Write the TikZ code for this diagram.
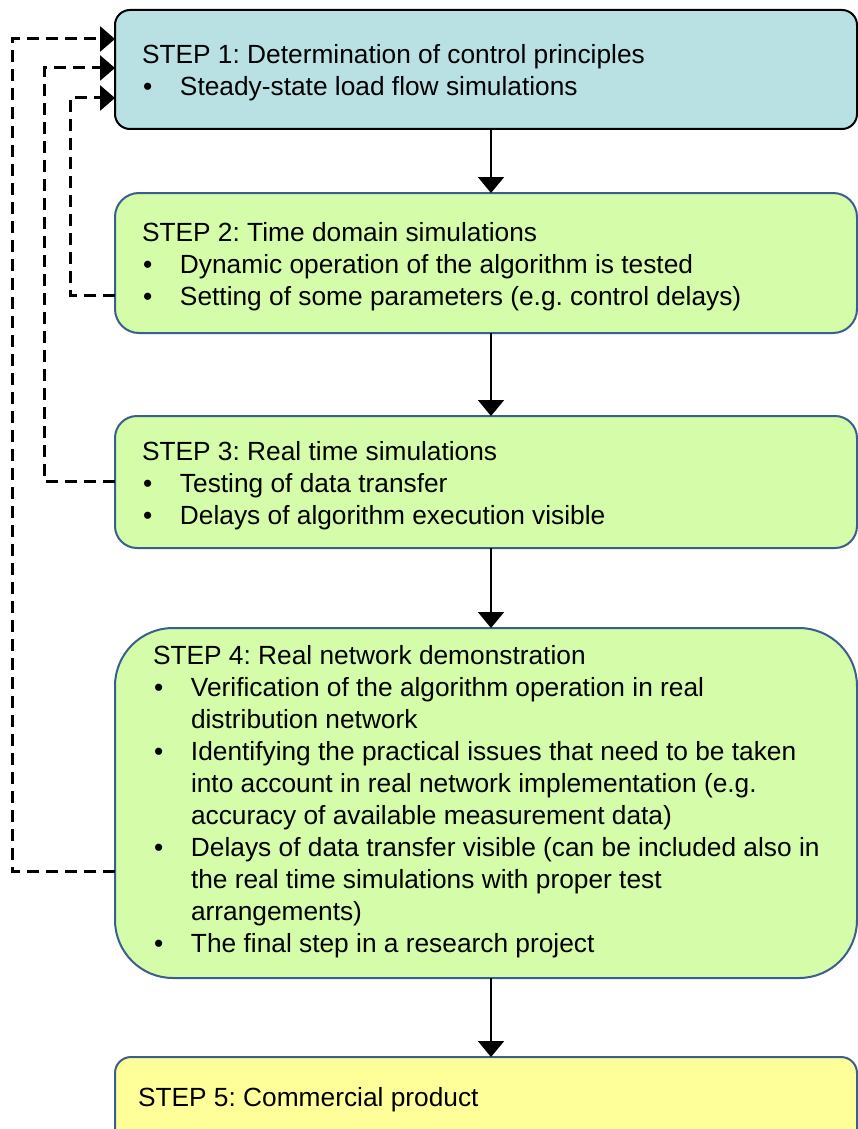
\documentclass[tikz,border=0pt]{standalone}
\usepackage{fontspec}
\setmainfont{Liberation Sans}
\usetikzlibrary{arrows.meta}
\frenchspacing

\definecolor{bluefill}{HTML}{B9E0E3}
\definecolor{greenfill}{HTML}{D4FCA9}
\definecolor{yellowfill}{HTML}{FFFF99}
\definecolor{edgeblue}{HTML}{3A5F8E}

% bullet cell of a step list
\newcommand\bl{\hspace*{1pt}\textbullet}
% two-column list: bullet column + text column
\newenvironment{steplist}{\begin{tabular}[t]{@{}p{38pt}@{}l@{}}}{\end{tabular}}
\newcommand\steptitle[1]{\multicolumn{2}{@{}l@{}}{#1}}

\tikzset{
  box/.style={rectangle, draw, line width=2pt, outer sep=0pt, inner sep=0pt,
    minimum width=742pt, anchor=north west},
  stepone/.style={box, draw=black, fill=bluefill, rounded corners=15pt},
  stepgreen/.style={box, draw=edgeblue, fill=greenfill},
  stepyellow/.style={box, draw=edgeblue, fill=yellowfill, rounded corners=16pt},
  txt/.style={anchor=base west, inner sep=0pt, outer sep=0pt,
    font=\fontsize{26.3}{32}\selectfont},
  arr/.style={line width=2pt, -{Triangle[length=16pt,width=26pt]}},
  fb/.style={line width=3pt, dash pattern=on 12pt off 7pt,
    -{Triangle[length=15pt,width=25pt]}},
}

\begin{document}
\begin{tikzpicture}[x=1pt, y=-1pt]
\useasboundingbox (0,0) rectangle (858,1129);
\clip (0,0) rectangle (858,1129);

% step boxes
\node[stepone, minimum height=119pt] (b1) at (115,10) {};
\node[stepgreen, rounded corners=24pt, minimum height=140pt] (b2) at (115,193) {};
\node[stepgreen, rounded corners=22pt, minimum height=132pt] (b3) at (115,416) {};
\node[stepgreen, rounded corners=58pt, minimum height=350pt] (b4) at (115,628) {};
\node[stepyellow, minimum height=100pt] (b5) at (115,1057) {};

% box texts
\node[txt] (t1) at (142,64) {\begin{steplist}
\steptitle{STEP 1: Determination of control principles}\\
\bl & Steady-state load flow simulations
\end{steplist}};

\node[txt] (t2) at (142,241) {\begin{steplist}
\steptitle{STEP 2: Time domain simulations}\\
\bl & Dynamic operation of the algorithm is tested\\
\bl & Setting of some parameters (e.g. control delays)
\end{steplist}};

\node[txt] (t3) at (142,460) {\begin{steplist}
\steptitle{STEP 3: Real time simulations}\\
\bl & Testing of data transfer\\
\bl & Delays of algorithm execution visible
\end{steplist}};

\node[txt] (t4) at (153,664) {\begin{steplist}
\steptitle{STEP 4: Real network demonstration}\\
\bl & Verification of the algorithm operation in real\\
    & distribution network\\
\bl & Identifying the practical issues that need to be taken\\
    & into account in real network implementation (e.g.\\
    & accuracy of available measurement data)\\
\bl & Delays of data transfer visible (can be included also in\\
    & the real time simulations with proper test\\
    & arrangements)\\
\bl & The final step in a research project
\end{steplist}};

\node[txt] (t5) at (138,1106) {STEP 5: Commercial product};

% main flow
\coordinate (ax) at (491,0);
\draw[arr] (b1.south -| ax) -- (b2.north -| ax);
\draw[arr] (b2.south -| ax) -- (b3.north -| ax);
\draw[arr] (b3.south -| ax) -- (b4.north -| ax);
\draw[arr] (b4.south -| ax) -- (b5.north -| ax);

% feedback loops back to step 1
\coordinate (k2) at (70,295);
\coordinate (r2) at (70,98);
\coordinate (k3) at (44,481);
\coordinate (r3) at (44,68);
\coordinate (k4) at (12,871);
\coordinate (r4) at (12,39);
\draw[fb] (b2.west |- k2) -- (k2) -- (r2) -- (b1.west |- r2);
\draw[fb] (b3.west |- k3) -- (k3) -- (r3) -- (b1.west |- r3);
\draw[fb] (b4.west |- k4) -- (k4) -- (r4) -- (b1.west |- r4);
\end{tikzpicture}
\end{document}
